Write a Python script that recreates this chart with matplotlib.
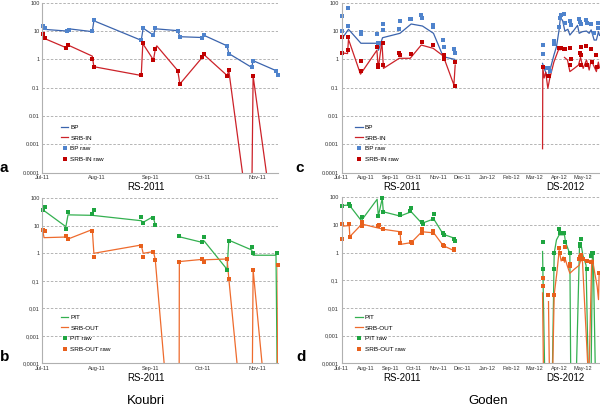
import numpy as np
import matplotlib
matplotlib.use("Agg")
import matplotlib.pyplot as plt

plt.rcParams['font.family'] = ['Liberation Sans', 'DejaVu Sans']

z = 1e-4        # line leaves the chart through the bottom
gap = np.nan    # break in a line

# x values are days since 1 Jul 2011
month_labels = ['Jul-11', 'Aug-11', 'Sep-11', 'Oct-11', 'Nov-11', 'Dec-11',
                'Jan-12', 'Feb-12', 'Mar-12', 'Apr-12', 'May-12']
ytick_dot = ['0.0001', '0.001', '0.01', '0.1', '1', '10', '100']
ytick_comma = ['0,0001', '0,001', '0,01', '0,1', '1', '10', '100']

# ---- panel a : Koubri BP / SRB-IN
a_bp_line_d = [0.6, 13.9, 15.0, 28.6, 29.5, 56.6, 57.7, 63.6, 64.6, 77.5, 78.7, 91.4, 92.6,
               105.7, 106.7, 119.8, 120.6, 133.7, 134.7]
a_bp_line = [11.5, 10.0, 12.0, 9.5, 23, 4.7, 12.5, 7.2, 12.0, 10.3, 6.3, 5.9, 7.0,
             3.0, 1.6, 0.52, 0.9, 0.4, 0.27]
a_bp_raw_d = [0.6, 1.7, 13.9, 15.0, 28.6, 29.5, 56.6, 57.7, 63.6, 64.6, 77.5, 78.7, 91.4, 92.6,
              105.7, 106.7, 119.8, 120.6, 133.7, 134.7]
a_bp_raw = [15.5, 12.8, 10.0, 11.0, 9.8, 24, 4.7, 13, 7.2, 12.5, 10.3, 6.3, 5.8, 7.2,
            3.0, 1.6, 0.52, 0.9, 0.4, 0.27]
a_in_line_d = [0.6, 1.7, 13.5, 14.7, 28.6, 29.5, 56.6, 57.5, 63.6, 64.6, 65.5, 77.5, 78.7,
               91.4, 92.6, 105.7, 106.7, 114.5, 117, 120.0, 120.6, 128.2]
a_in_line = [7.0, 5.3, 2.6, 3.2, 1.3, 0.55, 0.27, 3.6, 0.95, 2.2, 3.0, 0.4, 0.135,
             1.15, 1.45, 0.27, 0.4, z, gap, z, 0.26, z]
a_in_raw_d = [0.6, 1.7, 13.5, 14.7, 28.6, 29.5, 56.6, 57.5, 63.6, 64.6, 77.5, 78.7,
              91.4, 92.6, 105.7, 106.7, 120.6]
a_in_raw = [7.7, 5.5, 2.6, 3.3, 1.06, 0.54, 0.27, 3.9, 0.93, 2.3, 0.4, 0.135,
            1.18, 1.5, 0.26, 0.41, 0.26]

# ---- panel b : Koubri PIT / SRB-OUT
b_pit_line_d = [0.6, 13.5, 14.7, 28.6, 56.6, 57.7, 63.4, 64.6, 70, 78.3, 91.4, 92.6,
                105.7, 106.7, 119.8, 120.6, 133.7, 134.3]
b_pit_line = [37, 9.3, 25, 24, 15.3, 13.4, 21.5, 11, gap, 4.0, 2.5, 2.8,
              0.26, 3.0, 1.32, 0.85, 0.85, z]
b_pit_raw_d = [0.6, 1.5, 13.5, 14.7, 28.6, 29.5, 56.6, 57.7, 63.4, 64.6, 78.3, 91.4, 92.6,
               105.7, 106.7, 119.8, 120.6, 134.3]
b_pit_raw = [37.6, 49.5, 7.5, 31, 27, 37.6, 21, 13, 20, 10.7, 4.4, 2.6, 3.8,
             0.25, 2.9, 1.74, 1.0, 1.0]
b_out_line_d = [0.2, 1.0, 13.5, 14.7, 28.6, 29.5, 56.6, 57.7, 63.6, 64.6, 69.7, 74, 78.3, 78.4,
                91.4, 92.6, 105.7, 106.7, 111.4, 115, 120.2, 120.6, 125.7, 130, 134.5, 135]
b_out_line = [7.0, 3.7, 3.9, 3.3, 7.3, 1.0, 2.0, 1.0, 1.15, 0.6, z, gap, z, 0.5,
              0.6, 0.58, 0.62, 0.12, z, gap, z, 0.25, z, gap, z, 0.38]
b_out_raw_d = [0.2, 1.5, 13.5, 14.7, 28.6, 29.5, 56.6, 57.7, 63.6, 64.6, 78.3, 91.4, 92.6,
               105.7, 106.7, 120.6, 135]
b_out_raw = [7.0, 6.3, 4.3, 3.4, 6.5, 0.72, 1.84, 0.72, 1.11, 0.59, 0.5, 0.6, 0.48,
             0.6, 0.12, 0.25, 0.38]

# ---- panel c : Goden BP / SRB-IN
c_bp_line_d = [0, 8.8, 24.5, 44.7, 46.7, 51.8, 73.8, 88, 102.3, 116.2, 128.5, 142.8, 200,
               254, 256, 260.7, 264.5, 268.3, 271.6, 275, 276.3, 279.2, 282.2, 286, 288.5, 294,
               298.2, 300.3, 304.5, 309.5, 312.9, 315.4, 319.2, 322, 324.7, 326]
c_bp_line = [5.1, 11.5, 3.7, 3.7, 2.1, 5.8, 8.3, 17.7, 15, 8.3, 1.24, 1.0, gap,
             0.72, 0.48, 0.23, 0.55, 1.4, 2.8, 11.5, 26, 24.5, 10, 11.5, 7.2, 11,
             15.8, 8.3, 9.5, 10, 8.3, 11, 4.8, 4.8, 9.5, 7]
c_bp_raw_d = [0.5, 0.5, 8.5, 8.8, 24.5, 25, 44.7, 46, 47.6, 51.8, 53, 72.9, 73.8, 86.8, 88,
              100.7, 102.3, 115, 116.2, 128.5, 129.7, 142, 142.8,
              254, 254.8, 260.2, 262.4, 262.9, 268.3, 269, 275, 276.3, 277.5, 281.3, 282.6,
              288.5, 289.5, 300.3, 301, 302.8, 309.5, 309.8, 315.4, 319.2, 323.9, 324.5]
c_bp_raw = [10, 34, 15.4, 63, 9, 8, 7.7, 3.9, 3.7, 17, 10.9, 11.8, 22, 27, 26,
            38, 30, 16, 13.5, 4.8, 2.8, 2.26, 1.7,
            1.55, 3.2, 0.48, 0.5, 0.38, 3.4, 4.6, 14, 30, 37, 40, 19.7,
            23, 16, 26, 21, 17.7, 24.5, 19, 17.7, 8.3, 18.7, 12.5]
c_in_line_d = [0, 7.6, 8.8, 24, 44.7, 46.4, 51, 53, 72.9, 86.8, 100.7, 115.8, 128.5, 142, 143.6, 200,
               254, 254.3, 256, 258, 260.7, 262.9, 268.3, 274.2, 276.7, 278, 281.7, 285.5, 288.5,
               294, 299.4, 302, 305.3, 309.5, 312.9, 315.4, 319.2, 322, 324.5, 326]
c_in_line = [1.7, 1.6, 5.1, 0.3, 2.1, 0.48, 4.2, 0.48, 1.09, 1.09, 3.2, 2.45, 1.32, 0.125, 0.63, gap,
             0.0007, 0.5, 0.22, 0.35, 0.095, 0.2, 0.8, 2.2, 2.2, gap, 1.17, 0.95, 0.37,
             0.48, 0.63, 1.17, 0.48, 0.95, 0.42, 0.95, 0.55, 0.37, 0.8, 0.5]
c_in_raw_d = [0.5, 0.5, 8.5, 8.8, 24, 24.9, 44.7, 46, 46.4, 52.3, 52.7, 72.9, 73.3, 87.2, 88,
              101.5, 102.3, 115, 115.8, 128.9, 129.3, 142.8, 143.6,
              254.8, 260.7, 262.4, 275, 276.7, 280.9, 282.5, 288.5, 289, 290.2, 302, 301.5,
              302.8, 303, 309.5, 310.7, 315.4, 316, 322, 323.2]
c_in_raw = [6.3, 1.7, 2.1, 6.3, 0.38, 0.9, 2.8, 0.63, 0.55, 0.63, 3.9, 1.7, 1.4, 1.6, 1.5,
            4.2, 4.0, 3.2, 3.3, 1.4, 1.0, 0.115, 0.83,
            0.52, 0.25, 0.26, 2.6, 2.6, 2.4, 2.35, 2.6, 0.63, 1.0, 2.8, 1.7,
            1.45, 0.63, 3.0, 0.63, 2.3, 0.83, 1.4, 0.55]

# ---- panel d : Goden PIT / SRB-OUT
d_pit_line_d = [0, 9.7, 25, 45, 46.5, 51.5, 52.8, 74, 88, 101.5, 116.5, 128.6, 143, 200,
                254, 256.5, 260, 266.6, 268.7, 271.6, 275, 281.7, 283, 288.5, 289.5, 293,
                297, 300.7, 303.2, 305, 309, 311.5, 313, 315.5, 317, 318, 320.5]
d_pit_line = [50, 53, 14.3, 85, 21, 92, 30, 21, 30, 11.5, 16.5, 4.6, 3.3, gap,
              1.1, z, gap, z, 0.95, 2.9, 4.4, 4.4, 2.4, 0.9, z, gap,
              z, 1.8, 1.6, 0.8, 0.35, z, gap, z, 0.95, 1.0, z]
d_pit_raw_d = [0, 9.7, 10.2, 25.7, 46.7, 51.5, 52.8, 74, 74.5, 87, 87.5, 101.5, 102.5, 115.4,
               116.5, 128.6, 129, 142, 142.8,
               254, 254.8, 267.9, 268.7, 275, 275.5, 281.7, 282.6, 288.5, 300.7, 301.5, 303.2,
               301, 310, 315.8, 317, 318]
d_pit_raw = [50, 56, 50, 20, 21, 92, 30, 25, 23, 33, 40, 13, 11, 16,
             24, 5, 4.3, 3.0, 2.6,
             2.5, 0.26, 0.26, 0.95, 7, 5, 5, 2.4, 0.95, 2.0, 1.7, 3.1,
             0.63, 0.26, 0.76, 0.95, 1.0]
d_out_line_d = [0, 0.5, 9.7, 10.5, 25.7, 47.6, 54, 74, 75, 88, 101.5, 116.5, 128.4, 143, 200,
                254, 255, 258, 261.5, 262.5, 265, 267, 268.7, 272, 275, 277.5, 280, 281.7, 282.6,
                285, 288.5, 294, 300.3, 302.8, 304.5, 311, 312, 313, 316, 317, 323, 324.7, 325.5]
d_out_line = [3.2, 9, 9.5, 3.8, 10.8, 7.6, 6.9, 5.7, 2.0, 2.3, 5.7, 5.2, 1.8, 1.15, gap,
              0.035, z, gap, 0.017, z, gap, z, 0.03, 0.18, 1.2, 0.5, 0.7, 0.45, 0.6,
              0.35, 0.18, 0.25, 0.35, 0.6, 0.45, z, gap, z, 0.4, 0.55, 0.06, 0.02, 0.18]
d_out_raw_d = [0, 0, 9.7, 10.5, 25.7, 25.7, 46.7, 47.2, 53, 74, 74.3, 88, 88.5, 101.5, 102.3,
               115.4, 116, 128.4, 129, 142, 142.5,
               254, 254.8, 261.5, 268.7, 275, 275.5, 281.7, 282.6, 288.5, 289, 300.3, 301.5,
               302.8, 305.5, 310, 315.8, 316.5, 324.7]
d_out_raw = [10.6, 3.1, 10.8, 3.8, 13, 9.2, 9.2, 10, 7.2, 5.2, 2.2, 2.5, 2.2, 7, 5.2,
             6, 5.2, 1.9, 1.8, 1.24, 1.3,
             0.12, 0.06, 0.03, 0.03, 1.45, 0.95, 0.59, 1.66, 0.4, 0.32, 0.6, 0.7,
             0.83, 0.6, 0.5, 0.45, 0.45, 0.18]

blue_l, blue_m = '#3b64ad', '#4f83cc'
red_l, red_m = '#cc2229', '#c00000'
green_l, green_m = '#34b050', '#1ea540'
orange_l, orange_m = '#ee6b2d', '#e8601c'

months = np.arange('2011-07', '2012-06', dtype='datetime64[M]')
month_days = (months.astype('datetime64[D]') - np.datetime64('2011-07-01')).astype(float)

fig = plt.figure(figsize=(6.0, 4.07), dpi=100)


def panel(rect, xmax, nmonths, ylabels, series, names, leg_anchor):
    ax = fig.add_axes(rect)
    (l1d, l1, l1c), (l2d, l2, l2c), (r1d, r1, r1c), (r2d, r2, r2c) = series
    ax.plot(l1d, l1, color=l1c, lw=0.9, label=names[0])
    ax.plot(l2d, l2, color=l2c, lw=0.9, label=names[1])
    ax.plot(r1d, r1, 's', color=r1c, ms=2.7, mew=0, label=names[2], clip_on=False)
    ax.plot(r2d, r2, 's', color=r2c, ms=2.7, mew=0, label=names[3], clip_on=False)
    ax.set_yscale('log')
    ax.set_ylim(1e-4, 100)
    ax.set_xlim(0, xmax)
    ax.set_yticks([1e-4, 1e-3, 1e-2, 1e-1, 1, 10, 100])
    ax.set_yticklabels(ylabels)
    ax.yaxis.set_minor_locator(matplotlib.ticker.NullLocator())
    ax.set_xticks(month_days[:nmonths])
    ax.set_xticklabels(month_labels[:nmonths])
    ax.tick_params(axis='both', labelsize=4.0, length=0, pad=2, colors='#333333')
    ax.grid(axis='y', color='#a8a8a8', lw=0.6, ls=(0, (3, 2)))
    for s in ['top', 'right']:
        ax.spines[s].set_visible(False)
    for s in ['left', 'bottom']:
        ax.spines[s].set_color('#b0b0b0')
        ax.spines[s].set_linewidth(0.8)
    ax.legend(loc='lower left', bbox_to_anchor=leg_anchor, frameon=False, fontsize=4.6,
              handlelength=1.2, handletextpad=0.3, labelspacing=0.8, borderpad=0,
              markerscale=0.9)
    return ax


panel([0.0705, 0.5757, 0.3933, 0.4177], 135, 5, ytick_dot,
      [(a_bp_line_d, a_bp_line, blue_l), (a_in_line_d, a_in_line, red_l),
       (a_bp_raw_d, a_bp_raw, blue_m), (a_in_raw_d, a_in_raw, red_m)],
      ['BP', 'SRB-IN', 'BP raw', 'SRB-IN raw'], (0.065, 0.045))
panel([0.0705, 0.1074, 0.3933, 0.4054], 135, 5, ytick_comma,
      [(b_pit_line_d, b_pit_line, green_l), (b_out_line_d, b_out_line, orange_l),
       (b_pit_raw_d, b_pit_raw, green_m), (b_out_raw_d, b_out_raw, orange_m)],
      ['PIT', 'SRB-OUT', 'PIT raw', 'SRB-OUT raw'], (0.065, 0.05))
panel([0.5692, 0.5757, 0.4353, 0.4177], 330, 11, ytick_dot,
      [(c_bp_line_d, c_bp_line, blue_l), (c_in_line_d, c_in_line, red_l),
       (c_bp_raw_d, c_bp_raw, blue_m), (c_in_raw_d, c_in_raw, red_m)],
      ['BP', 'SRB-IN', 'BP raw', 'SRB-IN raw'], (0.04, 0.045))
panel([0.5692, 0.1074, 0.4353, 0.4078], 330, 11, ytick_comma,
      [(d_pit_line_d, d_pit_line, green_l), (d_out_line_d, d_out_line, orange_l),
       (d_pit_raw_d, d_pit_raw, green_m), (d_out_raw_d, d_out_raw, orange_m)],
      ['PIT', 'SRB-OUT', 'PIT raw', 'SRB-OUT raw'], (0.04, 0.05))

fig.text(0.2433, 0.5413, 'RS-2011', fontsize=6.9, ha='center', va='center')
fig.text(0.6695, 0.5413, 'RS-2011', fontsize=6.9, ha='center', va='center')
fig.text(0.9417, 0.5413, 'DS-2012', fontsize=6.9, ha='center', va='center')
fig.text(0.2433, 0.0713, 'RS-2011', fontsize=6.9, ha='center', va='center')
fig.text(0.6695, 0.0721, 'RS-2011', fontsize=6.9, ha='center', va='center')
fig.text(0.9417, 0.0721, 'DS-2012', fontsize=6.9, ha='center', va='center')
fig.text(0.2433, 0.014, 'Koubri', fontsize=9.5, ha='center', va='center')
fig.text(0.8133, 0.014, 'Goden', fontsize=9.5, ha='center', va='center')

fig.text(0.006, 1 - 168 / 407, 'a', fontsize=11, fontweight='bold', ha='center', va='center')
fig.text(0.007, 1 - 357 / 407, 'b', fontsize=11, fontweight='bold', ha='center', va='center')
fig.text(0.5, 1 - 168 / 407, 'c', fontsize=11, fontweight='bold', ha='center', va='center')
fig.text(0.502, 1 - 357 / 407, 'd', fontsize=11, fontweight='bold', ha='center', va='center')

fig.savefig('out.png', dpi=100)
